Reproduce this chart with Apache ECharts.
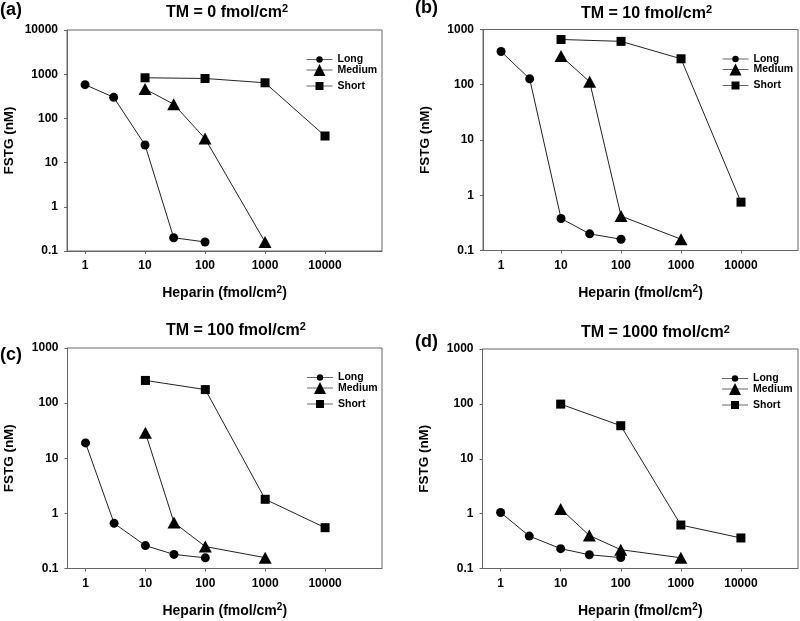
<!DOCTYPE html>
<html>
<head>
<meta charset="utf-8">
<script src="https://cdn.jsdelivr.net/npm/echarts@6/dist/echarts.min.js"></script>
<style>html,body{margin:0;padding:0;background:#fff;}#chart{width:800px;height:621px;}</style>
</head>
<body>
<div id="chart"></div>
<script>
// ---- data ----
const seriesNames = ['Long', 'Medium', 'Short'];
const longX = [1, 3, 10, 30, 100];
const mediumX = [10, 30, 100, 1000];
const shortX = [10, 100, 1000, 10000];
const panelLabels = ['(a)', '(b)', '(c)', '(d)'];
const tmLevels = ['0', '10', '100', '1000'];
const xTicks = [1, 10, 100, 1000, 10000];
const yMaxes = [10000, 1000, 1000, 1000];

const longA = [580, 300, 25, 0.2, 0.16];
const mediumA = [460, 210, 35, 0.16];
const shortA = [830, 800, 640, 40];

const longB = [400, 128, 0.38, 0.2, 0.16];
const mediumB = [330, 113, 0.42, 0.16];
const shortB = [660, 610, 295, 0.75];

const longC = [19, 0.66, 0.26, 0.18, 0.156];
const mediumC = [29, 0.68, 0.25, 0.157];
const shortC = [258, 176, 1.8, 0.55];

const longD = [1.05, 0.39, 0.23, 0.178, 0.158];
const mediumD = [1.22, 0.40, 0.22, 0.157];
const shortD = [99, 40, 0.62, 0.36];

const panelValues = [
  [longA, mediumA, shortA],
  [longB, mediumB, shortB],
  [longC, mediumC, shortC],
  [longD, mediumD, shortD]
];
const xValues = [longX, mediumX, shortX];

// ---- layout / style ----
const FONT = '"Liberation Sans", Arial, Helvetica, sans-serif';
const grids = [
  {left: 67, top: 30, width: 315, height: 221},
  {left: 483, top: 29.5, width: 315, height: 221},
  {left: 67.5, top: 348, width: 314.5, height: 220.5},
  {left: 482.5, top: 349, width: 315.5, height: 219.5}
];
const labelPos = [[0, 0], [415, -1.5], [0, 345], [415, 332]];
const titlePos = [[166, 3.3], [581, 4.3], [166, 321.7], [581, 324]];
const symbols = ['circle', 'triangle', 'rect'];
const symbolSizes = [9, [13, 12], 9];
const legendIconH = [8, 15, 10];
const legendRowOffsets = [28, 41.5, 55.5];
const AXIS_COLOR = '#666';

function fmt(v) { return String(parseFloat(Number(v).toPrecision(6))); }
function decades(max) { const out = []; for (let v = 0.1; v <= max * 1.0001; v *= 10) out.push(parseFloat(v.toPrecision(6))); return out; }

const supRich = {
  m: {fontSize: 14, fontWeight: 'bold', fontFamily: FONT, color: '#000', lineHeight: 17},
  s: {fontSize: 10, fontWeight: 'bold', fontFamily: FONT, color: '#000', lineHeight: 10, verticalAlign: 'top'}
};

const option = {
  animation: false,
  backgroundColor: '#fff',
  title: [],
  grid: [],
  xAxis: [],
  yAxis: [],
  legend: [],
  series: []
};

for (let i = 0; i < 4; i++) {
  const g = grids[i];
  option.grid.push(Object.assign({show: true, borderColor: AXIS_COLOR, borderWidth: 1, containLabel: false}, g));
  option.title.push({
    text: panelLabels[i], left: labelPos[i][0], top: labelPos[i][1], padding: 0,
    textStyle: {fontSize: 18, fontWeight: 'bold', fontFamily: FONT, color: '#000', lineHeight: 20}
  });
  option.title.push({
    text: '{m|TM = ' + tmLevels[i] + ' fmol/cm}{s|2}', left: titlePos[i][0], top: titlePos[i][1], padding: 0,
    textStyle: {
      rich: {
        m: {fontSize: 16, fontWeight: 'bold', fontFamily: FONT, color: '#000', lineHeight: 18},
        s: {fontSize: 11, fontWeight: 'bold', fontFamily: FONT, color: '#000', lineHeight: 11, verticalAlign: 'top'}
      }
    }
  });
  option.xAxis.push({
    type: 'log', logBase: 10, gridIndex: i, min: 0.5, max: 89125,
    name: '{m|Heparin (fmol/cm}{s|2}{m|)}', nameLocation: 'middle', nameGap: 34,
    nameTextStyle: {rich: supRich},
    axisLine: {show: true, lineStyle: {color: AXIS_COLOR, width: 1}},
    axisTick: {show: true, inside: false, length: 3, customValues: xTicks, lineStyle: {color: AXIS_COLOR}},
    axisLabel: {customValues: xTicks, formatter: fmt, fontSize: 12, fontWeight: 'bold', fontFamily: FONT, color: '#000', margin: 9},
    splitLine: {show: false}
  });
  const yt = decades(yMaxes[i]);
  option.yAxis.push({
    type: 'log', logBase: 10, gridIndex: i, min: 0.1, max: yMaxes[i],
    name: 'FSTG (nM)', nameLocation: 'middle', nameGap: 51,
    nameTextStyle: {fontSize: 13.5, fontWeight: 'bold', fontFamily: FONT, color: '#000'},
    axisLine: {show: true, lineStyle: {color: AXIS_COLOR, width: 1}},
    axisTick: {show: true, inside: false, length: 3, customValues: yt, lineStyle: {color: AXIS_COLOR}},
    axisLabel: {customValues: yt, formatter: fmt, fontSize: 12, fontWeight: 'bold', fontFamily: FONT, color: '#000', margin: 9},
    splitLine: {show: false}
  });
  for (let s = 0; s < 3; s++) {
    const xs = xValues[s];
    const ys = panelValues[i][s];
    option.series.push({
      type: 'line', name: seriesNames[s], xAxisIndex: i, yAxisIndex: i,
      data: xs.map((x, k) => [x, ys[k]]),
      symbol: symbols[s], symbolSize: symbolSizes[s], showAllSymbol: true,
      lineStyle: {color: '#222', width: 1},
      itemStyle: {color: '#000'},
      emphasis: {disabled: true}
    });
    option.legend.push({
      data: [seriesNames[s]], orient: 'vertical', padding: 0, selectedMode: false,
      left: g.left + 239, top: g.top + legendRowOffsets[s] - legendIconH[s] / 2,
      itemWidth: 26, itemHeight: legendIconH[s], itemGap: 0,
      lineStyle: {color: AXIS_COLOR, width: 1},
      itemStyle: {color: '#000'},
      textStyle: {fontSize: 10.5, fontWeight: 'bold', fontFamily: FONT, color: '#000', padding: [0, 0, 0, 0]}
    });
  }
}

const chart = echarts.init(document.getElementById('chart'), null, {renderer: 'canvas'});
chart.setOption(option);
</script>
</body>
</html>
